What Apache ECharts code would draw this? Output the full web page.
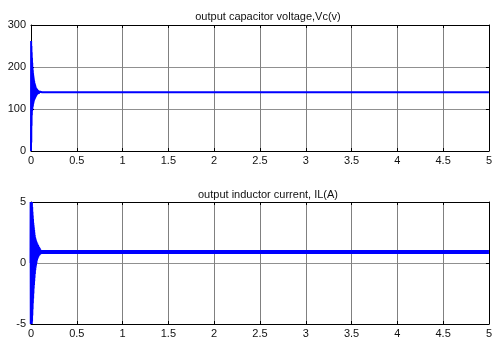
<!DOCTYPE html>
<html><head><meta charset="utf-8">
<script src="https://cdn.jsdelivr.net/npm/echarts@6/dist/echarts.min.js"></script>
<style>html,body{margin:0;padding:0;background:#fff}#c{width:495px;height:343px}</style>
</head><body><div id="c"></div>
<script>
// Titles
var titleVc = 'output capacitor voltage,Vc(v)';
var titleIl = 'output inductor current, IL(A)';
// Axis ticks
var xTicks = [0, 0.5, 1, 1.5, 2, 2.5, 3, 3.5, 4, 4.5, 5];
var vcTicks = [0, 100, 200, 300];
var ilTicks = [-5, 0, 5];
// Capacitor voltage samples [time s, volts]
var vcData = [
  [0,0],[0.0015,262],[0.003,20],[0.0045,250],[0.006,60],[0.0075,235],[0.009,85],[0.0105,222],
  [0.012,95],[0.0135,210],[0.015,100],[0.0165,200],[0.018,105],[0.0195,192],[0.021,108],[0.0225,185],
  [0.024,112],[0.0255,180],[0.027,115],[0.0285,175],[0.030,118],[0.0315,170],[0.033,120],[0.035,166],
  [0.037,122],[0.039,162],[0.041,124],[0.043,159],[0.045,126],[0.047,156],[0.049,128],[0.051,153],
  [0.054,130],[0.057,150],[0.060,132],[0.063,148],[0.066,134],[0.069,146],[0.072,135],[0.075,145],
  [0.079,136],[0.083,143],[0.087,137],[0.091,142],[0.095,138],[0.100,141],[0.110,139],[0.12,140],
  [0.5,140],[1,140],[1.5,140],[2,140],[2.5,140],[3,140],[3.5,140],[4,140],[4.5,140],[5,140]
];
// Inductor current: start-up transient [time s, amps]
var ilTransient = [
  [0,0],[0.0015,5],[0.003,-5],[0.0045,5],[0.006,-4.8],[0.0075,4.6],[0.009,-4.3],[0.0105,4.2],
  [0.012,-3.8],[0.0135,3.9],[0.015,-3.3],[0.0165,3.6],[0.018,-2.9],[0.0195,3.3],[0.021,-2.5],[0.0225,3.1],
  [0.024,-2.1],[0.0255,2.9],[0.027,-1.8],[0.0285,2.7],[0.030,-1.5],[0.0315,2.5],[0.033,-1.2],[0.035,2.3],
  [0.037,-0.9],[0.039,2.1],[0.041,-0.6],[0.043,2.0],[0.045,-0.4],[0.047,1.9],[0.049,-0.2],[0.051,1.8],
  [0.054,0],[0.057,1.7],[0.060,0.2],[0.063,1.6],[0.066,0.35],[0.069,1.5],[0.072,0.45],[0.075,1.4],
  [0.079,0.55],[0.083,1.3],[0.087,0.65],[0.091,1.2],[0.095,0.7],[0.100,1.1]
];
// Inductor current: steady state [time s, amps]
var ilSteady = [
  [0.100,0.9],[0.5,0.9],[1,0.9],[1.5,0.9],[2,0.9],[2.5,0.9],[3,0.9],[3.5,0.9],[4,0.9],[4.5,0.9],[5,0.9]
];

var font = 'Liberation Sans, Arial, sans-serif';
var chart = echarts.init(document.getElementById('c'), null, {renderer:'canvas'});
function xAxisPair(gi){
  return [{
    type:'value', gridIndex:gi, min:0, max:5, interval:0.5,
    axisLine:{show:true,onZero:false,lineStyle:{color:'#000',width:1}},
    axisTick:{show:true,inside:true,length:3,lineStyle:{color:'#000'}},
    axisLabel:{color:'#111',fontSize:11,fontFamily:font,margin:4,
      formatter:function(v){return String(v);}},
    splitLine:{show:true,lineStyle:{color:'#808080',width:1}}
  },{
    type:'value', gridIndex:gi, position:'top', min:0, max:5, interval:0.5,
    axisLine:{show:true,onZero:false,lineStyle:{color:'#000',width:1}},
    axisTick:{show:true,inside:true,length:3,lineStyle:{color:'#000'}},
    axisLabel:{show:false}, splitLine:{show:false}
  }];
}
function yAxisPair(gi,mn,mx,iv){
  return [{
    type:'value', gridIndex:gi, min:mn, max:mx, interval:iv,
    axisLine:{show:true,onZero:false,lineStyle:{color:'#000',width:1}},
    axisTick:{show:true,inside:true,length:3,lineStyle:{color:'#000'}},
    axisLabel:{color:'#111',fontSize:11,fontFamily:font,margin:5},
    splitLine:{show:true,lineStyle:{color:'#909090',width:1}}
  },{
    type:'value', gridIndex:gi, position:'right', min:mn, max:mx, interval:iv,
    axisLine:{show:true,onZero:false,lineStyle:{color:'#000',width:1}},
    axisTick:{show:true,inside:true,length:3,lineStyle:{color:'#000'}},
    axisLabel:{show:false}, splitLine:{show:false}
  }];
}
var option = {
  animation:false,
  backgroundColor:'#fff',
  title:[
    {text:titleVc, left:263, top:6, textAlign:'center',
     textStyle:{fontSize:11,fontWeight:'normal',color:'#111',fontFamily:font}},
    {text:titleIl, left:263, top:184, textAlign:'center',
     textStyle:{fontSize:11,fontWeight:'normal',color:'#111',fontFamily:font}}
  ],
  grid:[
    {left:31, right:2, top:25, height:126},
    {left:31, right:2, top:202, height:122}
  ],
  xAxis: xAxisPair(0).concat(xAxisPair(1)),
  yAxis: yAxisPair(0,0,300,100).concat(yAxisPair(1,-5,5,5)),
  series:[
    {type:'line', xAxisIndex:0, yAxisIndex:0, data:vcData, showSymbol:false, sampling:'none',
     lineStyle:{color:'#0000ff',width:2,join:'bevel'}, clip:true},
    {type:'line', xAxisIndex:2, yAxisIndex:2, data:ilTransient, showSymbol:false, sampling:'none',
     lineStyle:{color:'#0000ff',width:3,join:'bevel'}, clip:true},
    {type:'line', xAxisIndex:2, yAxisIndex:2, data:ilSteady, showSymbol:false, sampling:'none',
     lineStyle:{color:'#0000ff',width:4}, clip:true}
  ]
};
chart.setOption(option);
</script></body></html>
